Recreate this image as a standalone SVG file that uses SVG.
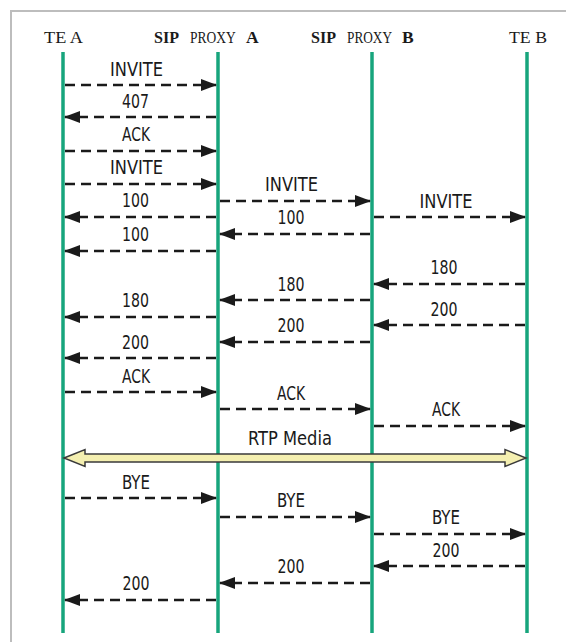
<svg xmlns="http://www.w3.org/2000/svg" width="566" height="642" viewBox="0 0 566 642">
<defs>
<marker id="ah" markerUnits="userSpaceOnUse" markerWidth="16" markerHeight="12" refX="15" refY="6" orient="auto">
<path d="M0,0 L16,6 L0,12 Z" fill="#1a1a1a"/>
</marker>
<style>
.frame{fill:none;stroke:#bdbdbd;stroke-width:2}
.life{stroke:#17a57c;stroke-width:3.5}
.msg{stroke:#1a1a1a;stroke-width:2.6;stroke-dasharray:10 6;fill:none;marker-end:url(#ah)}
.hd{font-family:"Liberation Serif","Times New Roman",serif;font-size:17.5px;fill:#1a1a1a}
.b{font-weight:bold}
.lb{font-family:"DejaVu Sans Condensed","DejaVu Sans","Liberation Sans",sans-serif;font-stretch:condensed;font-size:19px;fill:#1a1a1a;text-anchor:middle}
</style>
</defs>
<rect width="566" height="642" fill="#ffffff"/>
<path class="frame" d="M11,660 V11 H580"/>
<g id="teA"><text class="hd" x="44" y="43" textLength="39" lengthAdjust="spacingAndGlyphs">TE A</text><line class="life" x1="63" y1="52" x2="63" y2="633"/></g>
<g id="proxyA"><text class="hd b" x="154" y="43" textLength="25" lengthAdjust="spacingAndGlyphs">SIP</text><text class="hd" transform="translate(190,43) scale(0.77,1)">PROXY</text><text class="hd b" x="246" y="43">A</text><line class="life" x1="218" y1="52" x2="218" y2="633"/></g>
<g id="proxyB"><text class="hd b" x="311" y="43" textLength="25" lengthAdjust="spacingAndGlyphs">SIP</text><text class="hd" transform="translate(347,43) scale(0.76,1)">PROXY</text><text class="hd b" x="402" y="43">B</text><line class="life" x1="372" y1="52" x2="372" y2="633"/></g>
<g id="teB"><text class="hd" x="509" y="43" textLength="38" lengthAdjust="spacingAndGlyphs">TE B</text><line class="life" x1="527" y1="52" x2="527" y2="633"/></g>
<g id="connectors">
<line class="msg" x1="65" y1="85" x2="216" y2="85"/><text class="lb" x="136.5" y="76" textLength="53" lengthAdjust="spacingAndGlyphs">INVITE</text>
<line class="msg" x1="216" y1="117" x2="65" y2="117"/><text class="lb" x="135.5" y="108" textLength="27" lengthAdjust="spacingAndGlyphs">407</text>
<line class="msg" x1="65" y1="151" x2="216" y2="151"/><text class="lb" x="136" y="141" textLength="28" lengthAdjust="spacingAndGlyphs">ACK</text>
<line class="msg" x1="65" y1="184" x2="216" y2="184"/><text class="lb" x="136.5" y="174" textLength="53" lengthAdjust="spacingAndGlyphs">INVITE</text>
<line class="msg" x1="220" y1="201" x2="370" y2="201"/><text class="lb" x="291.5" y="191" textLength="53" lengthAdjust="spacingAndGlyphs">INVITE</text>
<line class="msg" x1="216" y1="217" x2="65" y2="217"/><text class="lb" x="135.5" y="207" textLength="27" lengthAdjust="spacingAndGlyphs">100</text>
<line class="msg" x1="374" y1="217" x2="525" y2="217"/><text class="lb" x="446" y="208" textLength="53" lengthAdjust="spacingAndGlyphs">INVITE</text>
<line class="msg" x1="370" y1="234" x2="220" y2="234"/><text class="lb" x="291" y="224" textLength="27" lengthAdjust="spacingAndGlyphs">100</text>
<line class="msg" x1="216" y1="251" x2="65" y2="251"/><text class="lb" x="135.5" y="241" textLength="27" lengthAdjust="spacingAndGlyphs">100</text>
<line class="msg" x1="525" y1="284" x2="374" y2="284"/><text class="lb" x="444" y="274" textLength="27" lengthAdjust="spacingAndGlyphs">180</text>
<line class="msg" x1="370" y1="300" x2="220" y2="300"/><text class="lb" x="291" y="291" textLength="27" lengthAdjust="spacingAndGlyphs">180</text>
<line class="msg" x1="216" y1="317" x2="65" y2="317"/><text class="lb" x="135.5" y="307" textLength="27" lengthAdjust="spacingAndGlyphs">180</text>
<line class="msg" x1="525" y1="325" x2="374" y2="325"/><text class="lb" x="444" y="316" textLength="27" lengthAdjust="spacingAndGlyphs">200</text>
<line class="msg" x1="370" y1="342" x2="220" y2="342"/><text class="lb" x="291" y="332" textLength="27" lengthAdjust="spacingAndGlyphs">200</text>
<line class="msg" x1="216" y1="358" x2="65" y2="358"/><text class="lb" x="135.5" y="349" textLength="27" lengthAdjust="spacingAndGlyphs">200</text>
<line class="msg" x1="65" y1="392" x2="216" y2="392"/><text class="lb" x="136" y="383" textLength="28" lengthAdjust="spacingAndGlyphs">ACK</text>
<line class="msg" x1="220" y1="409" x2="370" y2="409"/><text class="lb" x="291" y="400" textLength="28" lengthAdjust="spacingAndGlyphs">ACK</text>
<line class="msg" x1="374" y1="426" x2="525" y2="426"/><text class="lb" x="446" y="416" textLength="28" lengthAdjust="spacingAndGlyphs">ACK</text>
<path d="M64,458 L85,449.5 L85,454 L505,454 L505,449.5 L526,458 L505,466.5 L505,462 L85,462 L85,466.5 Z" fill="#f4efb0" stroke="#3a3a3a" stroke-width="1.5" stroke-linejoin="miter"/>
<text class="lb" x="290" y="445" textLength="84" lengthAdjust="spacingAndGlyphs">RTP Media</text>
<line class="msg" x1="65" y1="498" x2="216" y2="498"/><text class="lb" x="136" y="489" textLength="28" lengthAdjust="spacingAndGlyphs">BYE</text>
<line class="msg" x1="220" y1="517" x2="370" y2="517"/><text class="lb" x="291" y="507" textLength="28" lengthAdjust="spacingAndGlyphs">BYE</text>
<line class="msg" x1="374" y1="534" x2="525" y2="534"/><text class="lb" x="446" y="524" textLength="28" lengthAdjust="spacingAndGlyphs">BYE</text>
<line class="msg" x1="525" y1="566" x2="374" y2="566"/><text class="lb" x="446" y="557" textLength="27" lengthAdjust="spacingAndGlyphs">200</text>
<line class="msg" x1="370" y1="583" x2="220" y2="583"/><text class="lb" x="291" y="573" textLength="27" lengthAdjust="spacingAndGlyphs">200</text>
<line class="msg" x1="216" y1="600" x2="65" y2="600"/><text class="lb" x="136" y="590" textLength="27" lengthAdjust="spacingAndGlyphs">200</text>
</g>
</svg>
